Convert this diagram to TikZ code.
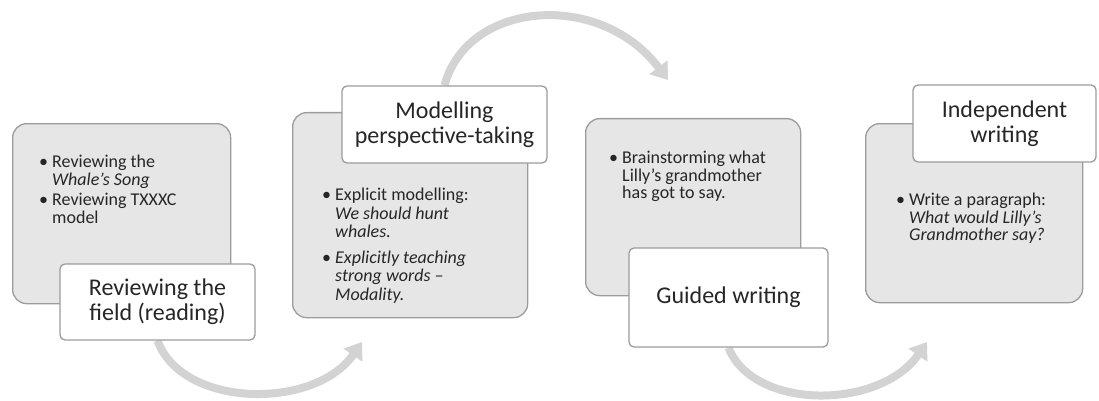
\documentclass[tikz,border=0pt]{standalone}
\usepackage{fontspec}
\setmainfont{Carlito}
\usetikzlibrary{arrows.meta,positioning}
\pgfdeclarelayer{background}
\pgfsetlayers{background,main}

\definecolor{boxgrey}{HTML}{E6E6E6}
\definecolor{edgegrey}{HTML}{9C9C9C}
\definecolor{arrowgrey}{HTML}{D3D3D3}
\definecolor{inkgrey}{HTML}{262626}

\newcommand\bulletmark{\makebox[13pt][l]{\textbullet}}
\newcommand\gap{\hspace*{13pt}}

\tikzset{
  stagebox/.style={draw=edgegrey, line width=1.3pt, fill=boxgrey, rounded corners=14pt, anchor=north west, inner sep=0pt},
  titlebox/.style={draw=edgegrey, line width=1.3pt, fill=white, rounded corners=5pt, align=center,
    font=\fontsize{24}{25}\selectfont, text=inkgrey, inner sep=0pt},
  notes/.style={align=left, font=\fontsize{18}{17.5}\selectfont, text=inkgrey, inner sep=0pt, anchor=north west},
  cyclearrow/.style={draw=arrowgrey, line width=8pt, -{Triangle[length=16pt,width=22pt]}}
}

\begin{document}
\begin{tikzpicture}[x=1pt,y=-1pt]
            \useasboundingbox (0,0) rectangle (1099,401);
            % stage boxes
            \node[stagebox, minimum width=218pt, minimum height=180pt] (g1) at (12,123) {};
            \node[stagebox, minimum width=235pt, minimum height=205pt] (g2) at (292,112) {};
            \node[stagebox, minimum width=215pt, minimum height=177pt] (g3) at (585,118) {};
            \node[stagebox, minimum width=217pt, minimum height=179pt] (g4) at (865,123) {};
            % notes inside the boxes
            \node[notes] (n1) at (39,155) {\bulletmark Reviewing the\\ \gap\textit{Whale’s Song}\\[3pt]
                \bulletmark Reviewing TXXXC\\ \gap model};
            \node[notes, font=\fontsize{18}{18.5}\selectfont] (n2) at (322,188) {\bulletmark Explicit modelling:\\ \gap\textit{We should hunt}\\ \gap\textit{whales.}\\[7pt]
                \bulletmark\textit{Explicitly teaching}\\ \gap\textit{strong words –}\\ \gap\textit{Modality.}};
            \node[notes] (n3) at (609,151) {\bulletmark Brainstorming what\\ \gap Lilly’s grandmother\\ \gap has got to say.};
            \node[notes] (n4) at (896,193) {\bulletmark Write a paragraph:\\ \gap\textit{What would Lilly’s}\\ \gap\textit{Grandmother say?}};
            % stage titles
            \node[titlebox, minimum width=195pt, minimum height=76pt] (h1) at (157.5,302) {Reviewing the\\field (reading)};
            \node[titlebox, minimum width=205pt, minimum height=77pt] (h2) at (444.5,124.5) {Modelling\\perspective-taking};
            \node[titlebox, minimum width=199pt, minimum height=99pt] (h3) at (728.5,297.5) {Guided writing};
            \node[titlebox, minimum width=183pt, minimum height=77pt] (h4) at (1004.5,123.5) {Independent\\writing};
            \coordinate (e1) at (362,342);
            \coordinate (e2) at (668,80);
            \coordinate (e3) at (927,342);
            \begin{pgfonlayer}{background}
            \draw[cyclearrow] (h1.south) .. controls +(25,68) and +(-47,68) .. (e1);
            \draw[cyclearrow] (h2.north) .. controls +(23,-85) and +(-68,-90) .. (e2);
            \draw[cyclearrow] (h3.south) .. controls +(25,63) and +(-47,68) .. (e3);
            \end{pgfonlayer}
        \end{tikzpicture}
\end{document}
